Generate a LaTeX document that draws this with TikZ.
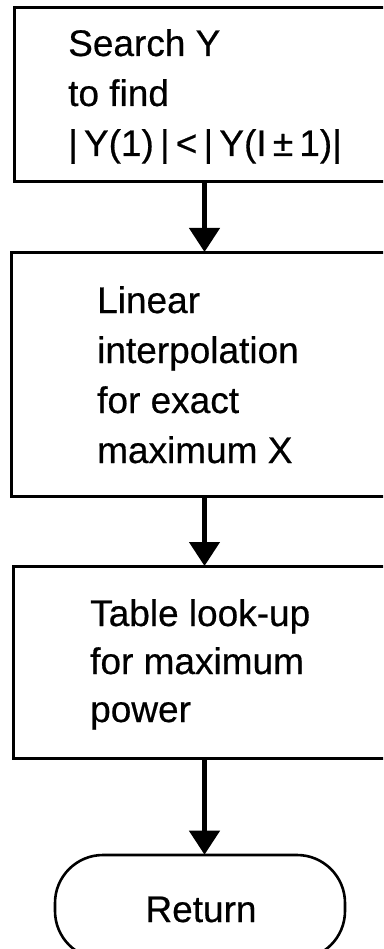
\documentclass[tikz,border=0pt]{standalone}
\usepackage{fontspec}
\setmainfont{Liberation Sans}[FakeBold=0.5]
\usetikzlibrary{arrows.meta}
\begin{document}
\begin{tikzpicture}[x=1pt,y=1pt,
  procbox/.style={draw=black, line width=3pt, rectangle, inner sep=0pt, anchor=north west},
  termbox/.style={draw=black, line width=2.6pt, rectangle, rounded corners=48pt, inner sep=0pt, minimum width=290pt, minimum height=104pt},
  lbl/.style={inner sep=0pt, anchor=base west, font=\fontsize{37}{50}\selectfont},
  flow/.style={line width=4.5pt, -{Triangle[length=24pt,width=30pt]}, shorten >=-1pt}
]
\useasboundingbox (0,0) rectangle (383,-949);
\clip (0,0) rectangle (383,-949);
\fill[white] (0,0) rectangle (383,-949);

\node[procbox, minimum width=380pt, minimum height=174pt] (b1) at (13,-6) {};
\node[procbox, minimum width=386pt, minimum height=244pt] (b2) at (10,-251) {};
\node[procbox, minimum width=382pt, minimum height=192pt] (b3) at (12,-565) {};
\node[termbox] (ret) at (200,-907) {};

\node[lbl] (t1) at (68,-56) {\vtop{\baselineskip=50pt\hbox{Search Y}\hbox{to find}\hbox{|\,Y(1)\,|\,<\,|\,Y(I\,±\,1)|}}};
\node[lbl] (t2) at (97,-313) {\vtop{\baselineskip=50pt\hbox{Linear}\hbox{interpolation}\hbox{for exact}\hbox{maximum X}}};
\node[lbl] (t3) at (90,-626) {\vtop{\baselineskip=48pt\hbox{Table look-up}\hbox{for maximum}\hbox{power}}};
\node[lbl, anchor=base] (t4) at (201,-922) {Return};

\draw[flow] (b1.south) -- (b2.north);
\draw[flow] (b2.south) -- (b3.north);
\draw[flow] (b3.south) -- (b3.south |- ret.north);
\end{tikzpicture}
\end{document}
